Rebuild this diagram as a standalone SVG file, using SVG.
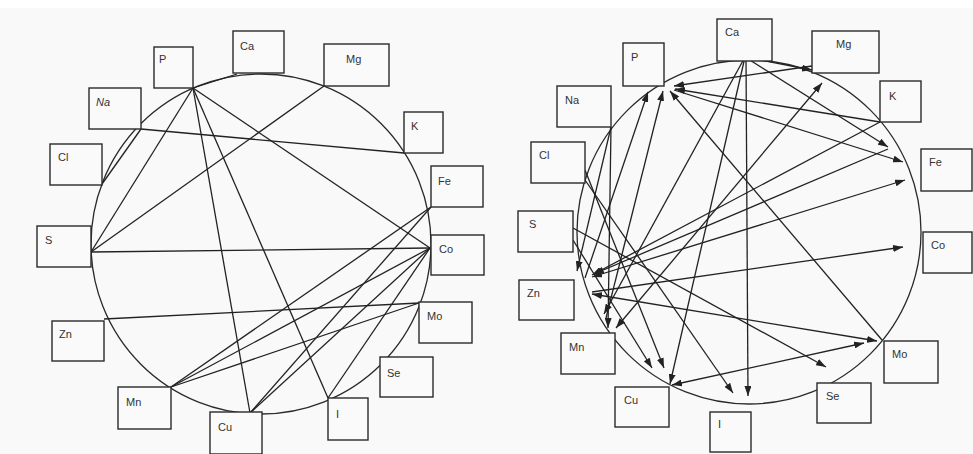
<svg xmlns="http://www.w3.org/2000/svg" width="973" height="454" viewBox="0 0 973 454">
<defs>
<marker id="ah" viewBox="0 0 10 7" refX="10" refY="3.5" markerWidth="10" markerHeight="7" markerUnits="userSpaceOnUse" orient="auto-start-reverse">
<path d="M0,0 L10,3.5 L0,7 z" fill="#222"/>
</marker>
<style>
.bg{fill:#f9f9f9}
.ring{fill:none;stroke:#2a2a2a;stroke-width:1.3}
.box{fill:#fafafa;stroke:#2a2a2a;stroke-width:1.4}
.lbl{font-family:"Liberation Sans",Arial,sans-serif;font-size:11px;fill:#333}
.ln{stroke:#222;stroke-width:1.3;fill:none}
.ar{stroke:#222;stroke-width:1.3;fill:none;marker-end:url(#ah)}
.ar2{stroke:#222;stroke-width:1.3;fill:none;marker-end:url(#ah);marker-start:url(#ah)}
</style>
</defs>
<rect class="bg" x="0" y="0" width="973" height="454"/>
<rect x="0" y="0" width="973" height="8" fill="#ffffff"/>

<!-- Left diagram -->
<circle class="ring" cx="261" cy="244" r="170"/>
<g id="left-connectors">
<line class="ln" x1="193" y1="88" x2="237" y2="74"/>
<line class="ln" x1="141" y1="129" x2="102" y2="184"/>
<line class="ln" x1="193" y1="88" x2="91" y2="252"/>
<line class="ln" x1="193" y1="88" x2="250" y2="413"/>
<line class="ln" x1="193" y1="88" x2="328" y2="398"/>
<line class="ln" x1="193" y1="88" x2="430" y2="248"/>
<line class="ln" x1="141" y1="129" x2="404" y2="153"/>
<line class="ln" x1="91" y1="252" x2="324" y2="86"/>
<line class="ln" x1="91" y1="252" x2="430" y2="248"/>
<line class="ln" x1="104" y1="319" x2="419" y2="303"/>
<line class="ln" x1="171" y1="387" x2="431" y2="207"/>
<line class="ln" x1="171" y1="387" x2="430" y2="248"/>
<line class="ln" x1="171" y1="387" x2="419" y2="303"/>
<line class="ln" x1="250" y1="413" x2="431" y2="207"/>
<line class="ln" x1="250" y1="413" x2="430" y2="248"/>
<line class="ln" x1="328" y1="398" x2="430" y2="248"/>
</g>
<g id="L-P"><rect class="box" x="154" y="47" width="39" height="41"/><text class="lbl" x="159" y="63">P</text></g>
<g id="L-Ca"><rect class="box" x="233" y="31" width="51" height="42"/><text class="lbl" x="240" y="50">Ca</text></g>
<g id="L-Mg"><rect class="box" x="324" y="44" width="65" height="42"/><text class="lbl" x="346" y="63">Mg</text></g>
<g id="L-Na"><rect class="box" x="89" y="88" width="52" height="41"/><text class="lbl" x="96" y="106" font-style="italic">Na</text></g>
<g id="L-K"><rect class="box" x="404" y="112" width="39" height="41"/><text class="lbl" x="411" y="130">K</text></g>
<g id="L-Cl"><rect class="box" x="50" y="144" width="52" height="41"/><text class="lbl" x="58" y="161">Cl</text></g>
<g id="L-Fe"><rect class="box" x="431" y="166" width="52" height="41"/><text class="lbl" x="438" y="185">Fe</text></g>
<g id="L-S"><rect class="box" x="37" y="226" width="54" height="41"/><text class="lbl" x="45" y="244">S</text></g>
<g id="L-Co"><rect class="box" x="431" y="235" width="53" height="40"/><text class="lbl" x="439" y="253">Co</text></g>
<g id="L-Mo"><rect class="box" x="419" y="302" width="53" height="41"/><text class="lbl" x="427" y="320">Mo</text></g>
<g id="L-Zn"><rect class="box" x="52" y="321" width="52" height="40"/><text class="lbl" x="59" y="338">Zn</text></g>
<g id="L-Se"><rect class="box" x="380" y="357" width="53" height="40"/><text class="lbl" x="387" y="377">Se</text></g>
<g id="L-Mn"><rect class="box" x="118" y="387" width="53" height="42"/><text class="lbl" x="126" y="406">Mn</text></g>
<g id="L-I"><rect class="box" x="328" y="398" width="40" height="42"/><text class="lbl" x="336" y="418">I</text></g>
<g id="L-Cu"><rect class="box" x="210" y="412" width="52" height="42"/><text class="lbl" x="218" y="431">Cu</text></g>

<!-- Right diagram -->
<circle class="ring" cx="749" cy="232" r="172"/>
<g id="right-connectors">
<line class="ar" x1="745" y1="57" x2="812" y2="70"/>
<line class="ar" x1="812" y1="66" x2="674" y2="86"/>
<line class="ar" x1="880" y1="122" x2="675" y2="89"/>
<line class="ar" x1="674" y1="90" x2="903" y2="162"/>
<line class="ar" x1="745" y1="57" x2="888" y2="147"/>
<line class="ar" x1="882" y1="340" x2="670" y2="91"/>
<line class="ar" x1="746" y1="57" x2="748" y2="396"/>
<line class="ar" x1="745" y1="57" x2="670" y2="384"/>
<line class="ar" x1="745" y1="57" x2="604" y2="314"/>
<line class="ar2" x1="616" y1="328" x2="822" y2="83"/>
<line class="ar" x1="880" y1="122" x2="592" y2="275"/>
<line class="ar2" x1="592" y1="277" x2="905" y2="180"/>
<line class="ar" x1="592" y1="292" x2="903" y2="247"/>
<line class="ar2" x1="877" y1="341" x2="592" y2="294"/>
<line class="ar2" x1="672" y1="385" x2="864" y2="343"/>
<line class="ar" x1="573" y1="228" x2="826" y2="367"/>
<line class="ar" x1="585" y1="180" x2="733" y2="393"/>
<line class="ar" x1="573" y1="240" x2="652" y2="368"/>
<line class="ar" x1="585" y1="170" x2="664" y2="368"/>
<line class="ar" x1="611" y1="127" x2="608" y2="328"/>
<line class="ar" x1="611" y1="127" x2="577" y2="271"/>
<line class="ar" x1="585" y1="278" x2="648" y2="92"/>
<line class="ar" x1="606" y1="318" x2="663" y2="91"/>
<line class="ar" x1="888" y1="149" x2="594" y2="274"/>
</g>
<g id="R-Ca"><rect class="box" x="717" y="19" width="55" height="42"/><text class="lbl" x="725" y="36">Ca</text></g>
<g id="R-P"><rect class="box" x="623" y="43" width="41" height="43"/><text class="lbl" x="631" y="61">P</text></g>
<g id="R-Mg"><rect class="box" x="812" y="31" width="67" height="42"/><text class="lbl" x="836" y="48">Mg</text></g>
<g id="R-Na"><rect class="box" x="557" y="86" width="54" height="41"/><text class="lbl" x="565" y="104">Na</text></g>
<g id="R-K"><rect class="box" x="880" y="81" width="41" height="41"/><text class="lbl" x="889" y="100">K</text></g>
<g id="R-Cl"><rect class="box" x="531" y="142" width="54" height="41"/><text class="lbl" x="539" y="159">Cl</text></g>
<g id="R-Fe"><rect class="box" x="921" y="149" width="51" height="42"/><text class="lbl" x="929" y="166">Fe</text></g>
<g id="R-S"><rect class="box" x="518" y="211" width="55" height="41"/><text class="lbl" x="529" y="228">S</text></g>
<g id="R-Co"><rect class="box" x="923" y="232" width="49" height="41"/><text class="lbl" x="931" y="249">Co</text></g>
<g id="R-Zn"><rect class="box" x="519" y="280" width="55" height="40"/><text class="lbl" x="527" y="297">Zn</text></g>
<g id="R-Mn"><rect class="box" x="561" y="333" width="54" height="41"/><text class="lbl" x="569" y="351">Mn</text></g>
<g id="R-Mo"><rect class="box" x="884" y="341" width="54" height="42"/><text class="lbl" x="892" y="358">Mo</text></g>
<g id="R-Cu"><rect class="box" x="615" y="387" width="54" height="40"/><text class="lbl" x="624" y="404">Cu</text></g>
<g id="R-Se"><rect class="box" x="817" y="383" width="54" height="40"/><text class="lbl" x="826" y="400">Se</text></g>
<g id="R-I"><rect class="box" x="710" y="412" width="41" height="40"/><text class="lbl" x="718" y="428">I</text></g>
</svg>
